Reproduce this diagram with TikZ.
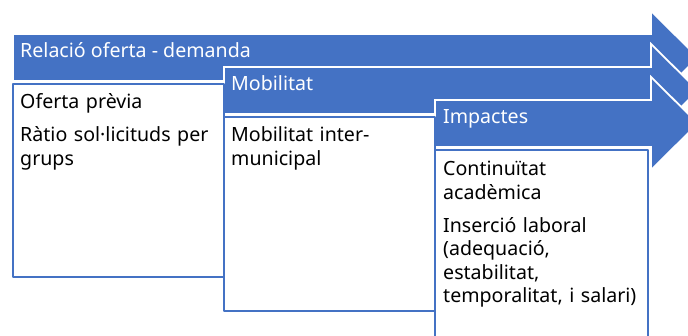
\documentclass[tikz,border=0pt]{standalone}
\usepackage{fontspec}
\setmainfont{Noto Sans}
\definecolor{stageblue}{HTML}{4472C4}
\tikzset{
  stagearrow/.style={fill=stageblue, draw=white, line width=1.8pt, line join=miter},
  stagebox/.style={draw=stageblue, line width=1.8pt, fill=white},
  stagetitle/.style={anchor=base west, text=white, inner sep=0pt, font=\fontsize{19.6}{23.5}\selectfont},
  stagetext/.style={anchor=base west, text=black, inner sep=0pt, text width=205pt, align=left, font=\fontsize{19.6}{23.5}\selectfont},
}
\begin{document}
\begin{tikzpicture}[x=1pt, y=-1pt, line join=round]
	\useasboundingbox (0,0) rectangle (688,336);
	\clip (0,0) rectangle (688,336);
	% arrows, one per stage
	\foreach \i in {0,1,2}
	\draw[stagearrow, shift={(0,33*\i)}] (13+211*\i,34) -- (651,34) -- (651,11) -- (698,57.5) -- (651,104) -- (651,81) -- (13+211*\i,81) -- cycle;
	% boxes under the arrows
	\draw[stagebox] (13,84) rectangle (224,277);
	\draw[stagebox] (224,117) rectangle (435,311);
	\draw[stagebox] (435,150) rectangle (648,350);
	% titles
	\node[stagetitle] (relacio) at (20,58) {Relació oferta - demanda};
	\node[stagetitle] (mobilitat) at (231,91) {Mobilitat};
	\node[stagetitle] (impactes) at (443,124) {Impactes};
	% contents
	\node[stagetext] (oferta) at (20,109) {Oferta prèvia\\[9.5pt]Ràtio sol·licituds per\\grups};
	\node[stagetext] (intermun) at (231,142) {Mobilitat inter-\\municipal};
	\node[stagetext] (continuitat) at (443,176) {Continuïtat\\acadèmica\\[9.5pt]Inserció laboral\\(adequació,\\estabilitat,\\temporalitat, i salari)};
\end{tikzpicture}
\end{document}
